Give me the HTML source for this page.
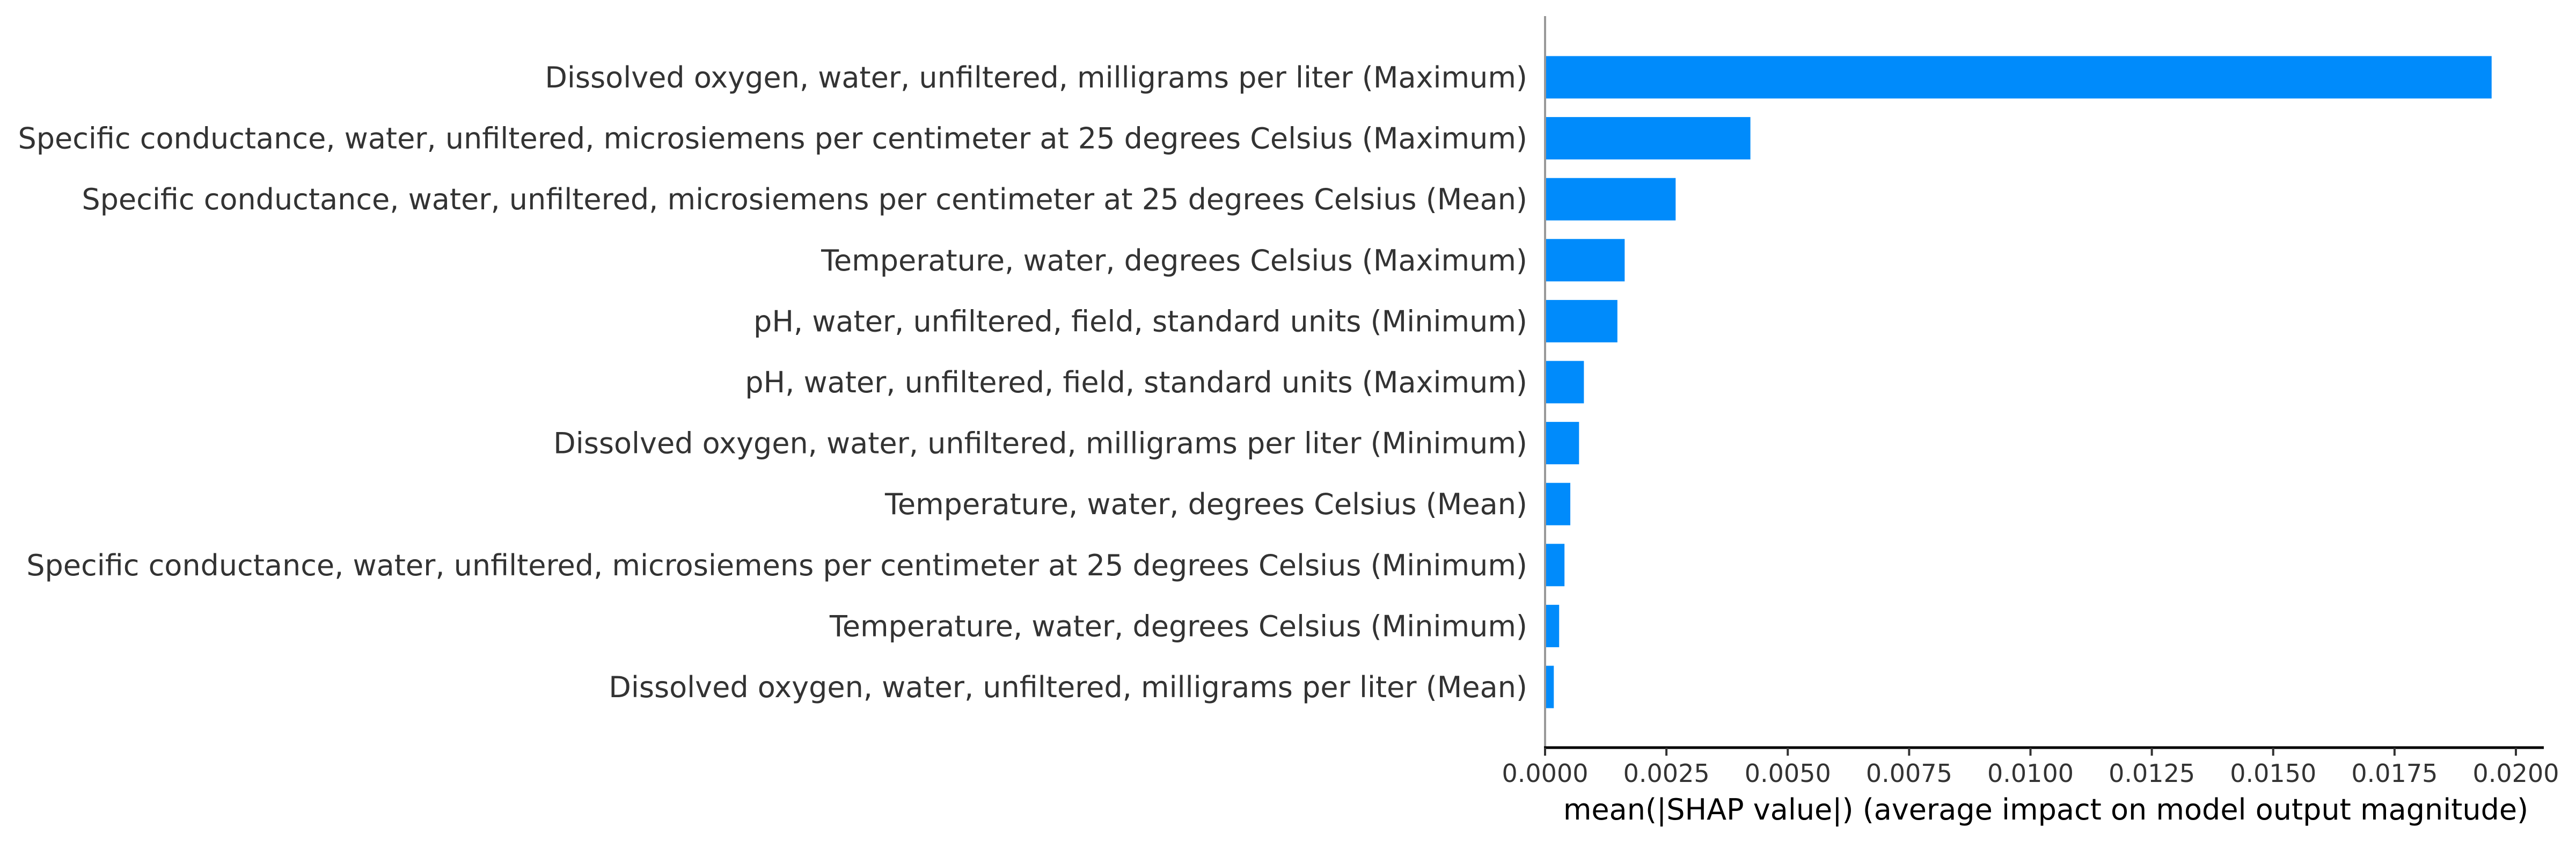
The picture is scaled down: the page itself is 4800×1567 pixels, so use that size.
<!DOCTYPE html>
<html><head><meta charset="utf-8"><style>
html,body{margin:0;padding:0;background:#fff;}
svg{display:block;font-family:"DejaVu Sans","Liberation Sans",sans-serif;}
</style></head><body>
<svg id="chart" width="4800" height="1567" viewBox="0 0 4800 1567">
<g id="bars"></g>
<g id="labels"></g>
<line x1="2879" y1="30" x2="2879" y2="1393" stroke="#999" stroke-width="4"/>
<line x1="2877" y1="1393" x2="4740" y2="1393" stroke="#000" stroke-width="5"/>
<g id="ticks"></g>
<text x="3812" y="1527" font-size="54" fill="#000" text-anchor="middle">mean(|SHAP value|) (average impact on model output magnitude)</text>
</svg>
<script>
const features = [
"Dissolved oxygen, water, unfiltered, milligrams per liter (Maximum)",
"Specific conductance, water, unfiltered, microsiemens per centimeter at 25 degrees Celsius (Maximum)",
"Specific conductance, water, unfiltered, microsiemens per centimeter at 25 degrees Celsius (Mean)",
"Temperature, water, degrees Celsius (Maximum)",
"pH, water, unfiltered, field, standard units (Minimum)",
"pH, water, unfiltered, field, standard units (Maximum)",
"Dissolved oxygen, water, unfiltered, milligrams per liter (Minimum)",
"Temperature, water, degrees Celsius (Mean)",
"Specific conductance, water, unfiltered, microsiemens per centimeter at 25 degrees Celsius (Minimum)",
"Temperature, water, degrees Celsius (Minimum)",
"Dissolved oxygen, water, unfiltered, milligrams per liter (Mean)"
];
const values = [0.0195, 0.00423, 0.00269, 0.00164, 0.00149, 0.00080, 0.00070, 0.00052, 0.00040, 0.00029, 0.00018];
const tickValues = [0, 0.0025, 0.005, 0.0075, 0.01, 0.0125, 0.015, 0.0175, 0.02];
const tickLabels = ["0.0000","0.0025","0.0050","0.0075","0.0100","0.0125","0.0150","0.0175","0.0200"];

const NS = "http://www.w3.org/2000/svg";
const x = v => 2879 + v / 0.02 * 1809;
const yc = i => 144 + i * 113.6;
const barH = 79;
const gb = document.getElementById('bars'), gl = document.getElementById('labels'), gt = document.getElementById('ticks');
values.forEach((v, i) => {
  const r = document.createElementNS(NS, 'rect');
  r.setAttribute('x', x(0));
  r.setAttribute('y', yc(i) - barH / 2);
  r.setAttribute('width', x(v) - x(0));
  r.setAttribute('height', barH);
  r.setAttribute('fill', '#008bfb');
  
  
  gb.appendChild(r);
  const t = document.createElementNS(NS, 'text');
  t.setAttribute('x', 2846);
  t.setAttribute('y', yc(i) + 19);
  t.setAttribute('font-size', '54');
  t.setAttribute('fill', '#333');
  t.setAttribute('text-anchor', 'end');
  t.textContent = features[i];
  
  
  gl.appendChild(t);
});
tickValues.forEach((v, i) => {
  const l = document.createElementNS(NS, 'line');
  l.setAttribute('x1', x(v)); l.setAttribute('x2', x(v));
  l.setAttribute('y1', 1393); l.setAttribute('y2', 1408);
  l.setAttribute('stroke', '#333'); l.setAttribute('stroke-width', '4');
  
  
  gt.appendChild(l);
  const t = document.createElementNS(NS, 'text');
  t.setAttribute('x', x(v));
  t.setAttribute('y', 1457);
  t.setAttribute('font-size', '46');
  t.setAttribute('fill', '#333');
  t.setAttribute('text-anchor', 'middle');
  t.textContent = tickLabels[i];
  
  
  gt.appendChild(t);
});
</script>
</body></html>
